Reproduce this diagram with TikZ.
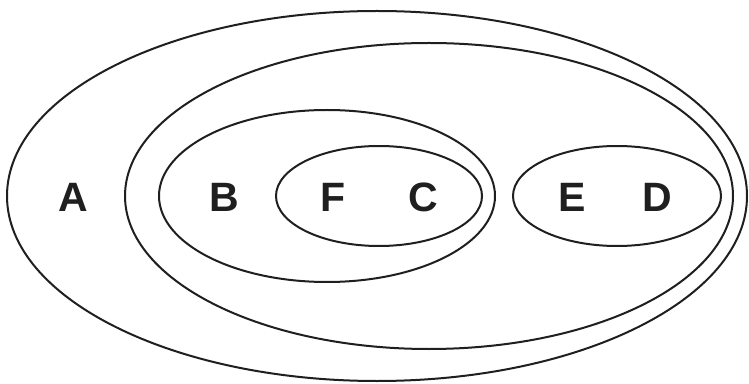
\documentclass[tikz,border=0pt]{standalone}
\usepackage{fontspec}
\setmainfont{Liberation Sans}
\begin{document}
\begin{tikzpicture}[x=1pt,y=1pt,
  set/.style={draw=black!88, line width=2pt},
  lbl/.style={font=\fontsize{41}{44}\selectfont\bfseries, text=black!88, inner sep=0pt, anchor=center}]
\useasboundingbox (0,0) rectangle (749,383);
\draw[set] (377,187) ellipse [x radius=370, y radius=185];
\draw[set] (429,187) ellipse [x radius=304, y radius=153];
\draw[set] (327,187) ellipse [x radius=168, y radius=86];
\draw[set] (379,187) ellipse [x radius=103, y radius=50];
\draw[set] (617,187) ellipse [x radius=104, y radius=50];
\node[lbl] (a) at (73,186) {A};
\node[lbl] (b) at (224,186) {B};
\node[lbl] (f) at (333,186) {F};
\node[lbl] (c) at (423,186) {C};
\node[lbl] (e) at (572,186) {E};
\node[lbl] (d) at (657,186) {D};
\end{tikzpicture}
\end{document}
